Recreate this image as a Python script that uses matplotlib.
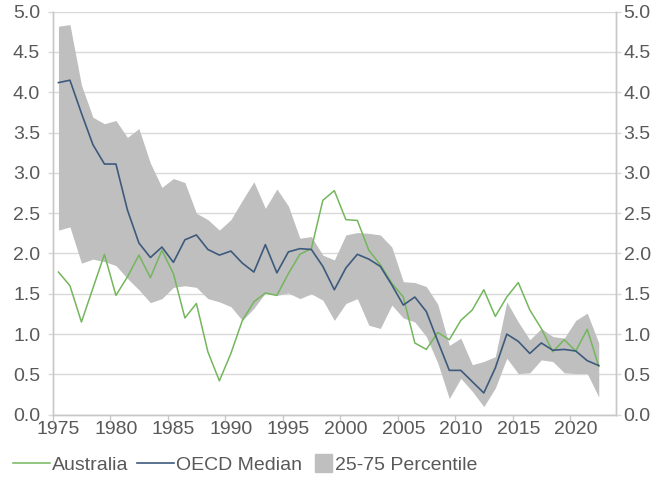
import numpy as np
import matplotlib
matplotlib.use("Agg")
import matplotlib.pyplot as plt
from matplotlib.lines import Line2D
from matplotlib.patches import Patch, Rectangle
from matplotlib.legend_handler import HandlerPatch

plt.rcParams['font.family'] = ['Liberation Sans', 'DejaVu Sans']

years = np.arange(1975, 2023)

australia = [1.77, 1.60, 1.15, 1.57, 1.99, 1.48, 1.71, 1.98, 1.70, 2.04,
             1.75, 1.20, 1.38, 0.78, 0.42, 0.76, 1.17, 1.40, 1.51, 1.48,
             1.75, 1.99, 2.06, 2.66, 2.78, 2.42, 2.41, 2.04, 1.86, 1.63,
             1.46, 0.89, 0.81, 1.02, 0.93, 1.17, 1.30, 1.55, 1.22, 1.46,
             1.64, 1.30, 1.07, 0.78, 0.93, 0.79, 1.06, 0.60]

oecd_median = [4.12, 4.15, 3.74, 3.35, 3.11, 3.11, 2.54, 2.13, 1.95, 2.08,
               1.89, 2.17, 2.23, 2.05, 1.98, 2.03, 1.88, 1.77, 2.11, 1.76,
               2.02, 2.06, 2.05, 1.84, 1.55, 1.82, 1.99, 1.93, 1.84, 1.61,
               1.36, 1.46, 1.28, 0.91, 0.55, 0.55, 0.41, 0.27, 0.58, 1.00,
               0.91, 0.76, 0.89, 0.80, 0.81, 0.79, 0.67, 0.61]

pct75 = [4.82, 4.84, 4.09, 3.69, 3.61, 3.65, 3.44, 3.55, 3.12, 2.82,
         2.93, 2.88, 2.50, 2.42, 2.29, 2.42, 2.66, 2.89, 2.56, 2.80,
         2.59, 2.19, 2.21, 1.98, 1.92, 2.23, 2.26, 2.25, 2.23, 2.08,
         1.65, 1.64, 1.59, 1.37, 0.86, 0.95, 0.62, 0.66, 0.72, 1.40,
         1.15, 0.93, 1.07, 0.97, 0.95, 1.17, 1.26, 0.89]

pct25 = [2.29, 2.33, 1.88, 1.93, 1.90, 1.85, 1.69, 1.55, 1.39, 1.44,
         1.58, 1.60, 1.58, 1.44, 1.40, 1.34, 1.17, 1.32, 1.51, 1.48,
         1.51, 1.44, 1.50, 1.42, 1.17, 1.38, 1.44, 1.11, 1.07, 1.36,
         1.20, 1.15, 0.97, 0.64, 0.20, 0.45, 0.29, 0.10, 0.33, 0.70,
         0.51, 0.52, 0.68, 0.66, 0.52, 0.51, 0.51, 0.22]

green = '#74b65c'
blue = '#3d5a7c'
band = '#bfbfbf'
grid = '#d9d9d9'
txt = '#595959'

fig = plt.figure(figsize=(6.66, 4.79), dpi=100)
ax = fig.add_axes([52.7 / 666, 1 - 414.7 / 479, (616 - 52.7) / 666, (414.7 - 11.7) / 479])

ax.fill_between(years, pct25, pct75, color=band, linewidth=0, zorder=1)
ax.plot(years, australia, color=green, lw=1.1, zorder=3)
ax.plot(years, oecd_median, color=blue, lw=1.2, zorder=4)

ax.set_xlim(1974.5, 2023.5)
ax.set_ylim(0, 5)
yt = np.arange(0, 5.01, 0.5)
ax.set_yticks(yt)
ax.set_yticklabels(['%.1f' % v for v in yt])
ax.yaxis.grid(True, color=grid, lw=1, zorder=0)
ax.set_axisbelow(True)

ax.set_xticks(np.arange(1975, 2021, 5))
ax.set_xticks(np.arange(1974.5, 2020, 5), minor=True)
ax.tick_params(axis='x', which='major', length=0, pad=4.5, labelsize=14, labelcolor=txt)
ax.tick_params(axis='x', which='minor', length=4, width=1, color='#c8c8c8')
ax.tick_params(axis='y', which='major', length=3.5, width=1, color=grid, pad=5.5,
               labelsize=14, labelcolor=txt)

ax2 = ax.twinx()
ax2.set_ylim(0, 5)
ax2.set_yticks(yt)
ax2.set_yticklabels(['%.1f' % v for v in yt])
ax2.tick_params(axis='y', length=3.5, width=1, color=grid, pad=2,
                labelsize=14, labelcolor=txt)

for a in (ax, ax2):
    a.spines['top'].set_visible(False)
    for s in ('left', 'right', 'bottom'):
        a.spines[s].set_color('#c8c8c8')
        a.spines[s].set_linewidth(1)


def square_handle(legend, orig_handle, xdescent, ydescent, width, height, fontsize):
    s = width
    return Rectangle((-xdescent, -ydescent + (height - s) / 2), s, s)


ly = 1 - 465 / 479
line_handles = [Line2D([], [], color=green, lw=1.1), Line2D([], [], color=blue, lw=1.2)]
leg1 = fig.legend(line_handles, ['Australia', 'OECD Median'], loc='center left',
                  bbox_to_anchor=(13 / 666, ly), ncol=2, frameon=False, fontsize=14,
                  handlelength=1.9, handletextpad=0.1, columnspacing=0.45,
                  borderpad=0, borderaxespad=0, labelcolor=txt)
leg2 = fig.legend([Patch(color=band)], ['25-75 Percentile'], loc='center left',
                  bbox_to_anchor=(315 / 666, ly), frameon=False, fontsize=14,
                  handlelength=0.88, handletextpad=0.15, borderpad=0, borderaxespad=0,
                  labelcolor=txt, handler_map={Patch: HandlerPatch(patch_func=square_handle)})

fig.savefig('out.png', dpi=100)
